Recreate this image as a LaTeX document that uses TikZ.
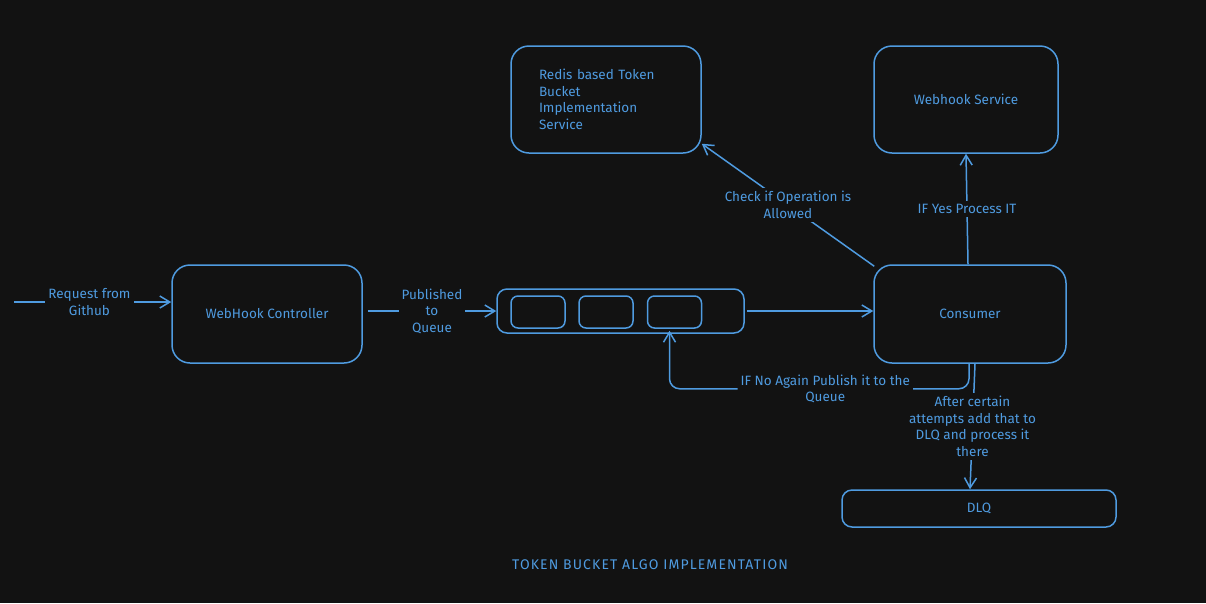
\documentclass[tikz,border=0pt]{standalone}
\usepackage{fontspec}
\setmainfont{Fira Sans}
\usetikzlibrary{arrows.meta,calc}
\definecolor{bg}{HTML}{121212}
\definecolor{ink}{HTML}{4F9BE0}
\begin{document}
\begin{tikzpicture}[x=1pt,y=-1pt,
  every node/.style={text=ink,font=\fontsize{13.5}{16.5}\selectfont},
  box/.style={draw=ink,line width=1.5pt,rounded corners=18pt,inner sep=0pt},
  slotbox/.style={draw=ink,line width=1.5pt,rounded corners=7pt,minimum width=54pt,minimum height=32pt,inner sep=0pt},
  conn/.style={draw=ink,line width=1.5pt,-{Straight Barb[length=10pt,width=12pt,line width=1.5pt]}},
  lbl/.style={fill=bg,align=center,inner sep=3pt}
]
\fill[bg] (0,0) rectangle (1206,603);
\useasboundingbox (0,0) rectangle (1206,603);

\node[box,minimum width=190pt,minimum height=98pt] (ctrl) at (267,314) {WebHook Controller};
\node[box,rounded corners=10pt,minimum width=247pt,minimum height=44pt] (queue) at (620.5,311) {};
\node[slotbox] (slot1) at (538,312) {};
\node[slotbox] (slot2) at (606,312) {};
\node[slotbox] (slot3) at (674.5,312) {};
\node[box,minimum width=192pt,minimum height=98pt] (cons) at (970,314) {Consumer};
\node[box,minimum width=190pt,minimum height=107pt,text width=134pt,align=left] (redis) at (606,99.5)
  {Redis based Token\\Bucket\\Implementation\\Service};
\node[box,minimum width=184pt,minimum height=107pt] (ws) at (966,99.5) {Webhook Service};
\node[box,rounded corners=10pt,minimum width=274pt,minimum height=37pt] (dlq) at (979,508.5) {DLQ};
\node[font=\fontsize{14}{16}\selectfont\addfontfeature{LetterSpace=8}] (title) at (650,565) {TOKEN BUCKET ALGO IMPLEMENTATION};

\coordinate (src) at (14,302);
\draw[conn] (src) -- node[lbl,pos=0.48] {Request from\\Github} ($(ctrl.west)+(0,-12)$);
\draw[conn] ($(ctrl.east)+(5,-3)$) -- node[lbl] {Published\\to\\Queue} (queue.west);
\draw[conn] ($(queue.east)+(2,0)$) -- (queue.east -| cons.west);
\draw[conn] ($(cons.north west)+(1,2)$) -- node[lbl] {Check if Operation is\\Allowed} ($(redis.south east)+(0,-10)$);
\draw[conn] ($(cons.north)+(-2,0)$) -- node[lbl] {IF Yes Process IT} (ws.south);
\draw[conn,rounded corners=10pt] ($(cons.south)+(-1,0)$) |- node[lbl,pos=0.74] {IF No Again Publish it to the\\Queue}
  ($(slot3.south)+(-5,60)$) -- ($(slot3.south)+(-5,2)$);
\draw[conn] ($(cons.south)+(5,0)$) -- node[lbl] {After certain\\attempts add that to\\DLQ and process it\\there} (dlq.north -| cons.south);
\end{tikzpicture}
\end{document}
